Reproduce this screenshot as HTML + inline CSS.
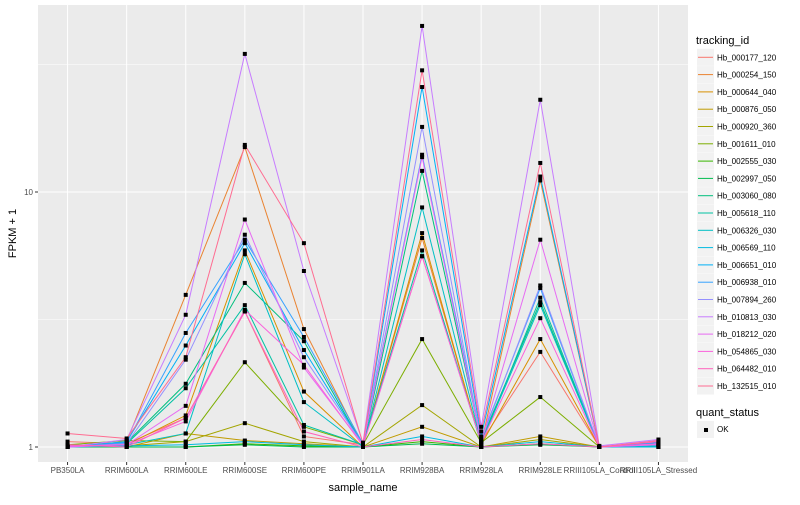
<!DOCTYPE html>
<html><head><meta charset="utf-8"><style>
body{margin:0;background:#fff;font-family:"Liberation Sans",sans-serif}
</style></head><body>
<svg id="c" width="800" height="500" xmlns="http://www.w3.org/2000/svg"></svg>
<script>
const categories=["PB350LA","RRIM600LA","RRIM600LE","RRIM600SE","RRIM600PE","RRIM901LA","RRIM928BA","RRIM928LA","RRIM928LE","RRIII105LA_Control","RRIII105LA_Stressed"];
const seriesNames=["Hb_000177_120","Hb_000254_150","Hb_000644_040","Hb_000876_050","Hb_000920_360","Hb_001611_010","Hb_002555_030","Hb_002997_050","Hb_003060_080","Hb_005618_110","Hb_006326_030","Hb_006569_110","Hb_006651_010","Hb_006938_010","Hb_007894_260","Hb_010813_030","Hb_018212_020","Hb_054865_030","Hb_064482_010","Hb_132515_010"];
const colors=["#F8766D","#EA8331","#D89000","#C09B00","#A3A500","#7CAE00","#39B600","#00BB4E","#00BF7D","#00C1A3","#00BFC4","#00BAE0","#00B0F6","#35A2FF","#9590FF","#C77CFF","#E76BF3","#FA62DB","#FF62BC","#FF6C91"];
const s0=[1.05,1.03,1.3,3.4,1.1,1.02,5.6,1.05,2.36,1.0,1.05];
const s1=[1.0,1.05,3.95,15.0,2.9,1.01,6.6,1.03,11.1,1.0,1.02];
const s2=[1.0,1.02,1.33,5.9,1.65,1.0,6.9,1.02,2.65,1.0,1.01];
const s3=[1.01,1.0,1.13,1.06,1.03,1.0,1.2,1.0,1.1,1.0,1.03];
const s4=[1.0,1.01,1.05,1.24,1.05,1.0,1.46,1.0,1.07,1.0,1.0];
const s5=[1.02,1.06,1.05,2.15,1.2,1.02,2.65,1.04,1.57,1.0,1.01];
const s6=[1.0,1.0,1.0,1.03,1.01,1.0,1.05,1.0,1.03,1.0,1.0];
const s7=[1.0,1.0,1.0,1.02,1.0,1.0,1.03,1.0,1.02,1.0,1.0];
const s8=[1.01,1.04,1.77,4.4,2.6,1.01,12.1,1.06,3.7,1.0,1.02];
const s9=[1.0,1.03,1.7,3.6,1.22,1.02,5.9,1.03,3.85,1.0,1.0];
const s10=[1.0,1.02,1.13,5.7,1.5,1.0,8.7,1.04,3.6,1.0,1.01];
const s11=[1.0,1.01,1.02,1.05,1.02,1.0,1.1,1.0,1.05,1.0,1.0];
const s12=[1.0,1.05,2.5,6.3,2.4,1.02,25.8,1.1,11.5,1.0,1.04];
const s13=[1.0,1.04,2.8,6.5,2.7,1.03,14,1.08,4.2,1.0,1.03];
const s14=[1.0,1.03,2.2,6.8,2.25,1.02,18,1.06,4.3,1.0,1.02];
const s15=[1.0,1.07,3.3,34.8,4.9,1.04,44.8,1.2,23,1.01,1.07];
const s16=[1.0,1.02,1.45,7.8,2.05,1.02,13.7,1.05,6.5,1.0,1.02];
const s17=[1.01,1.02,1.26,3.45,2.1,1.01,5.6,1.04,3.2,1.0,1.03];
const s18=[1.02,1.0,1.3,3.4,1.15,1.0,1.07,1.0,1.03,1.0,1.05];
const s19=[1.13,1.08,2.25,15.3,6.3,1.03,30,1.15,13,1.0,1.06];
const series=[s0,s1,s2,s3,s4,s5,s6,s7,s8,s9,s10,s11,s12,s13,s14,s15,s16,s17,s18,s19];
const yTicks=[1,10];
const NS="http://www.w3.org/2000/svg";
const svg=document.getElementById('c');
const L=38,R=688,T=5,B=462;
const step=(R-L)/categories.length;
function x(i){return L+step*(i+0.5);}
function y(v){return 447-Math.log10(v)*255;}
function mk(t,a,p){const e=document.createElementNS(NS,t);for(const k in a)e.setAttribute(k,a[k]);(p||svg).appendChild(e);return e;}
const panel=mk('rect',{x:L,y:T,width:R-L,height:B-T,fill:'#EBEBEB'});


[Math.sqrt(10),Math.sqrt(1000)].forEach(v=>{const g=mk('line',{x1:L,x2:R,y1:y(v),y2:y(v),stroke:'#fff','stroke-width':0.5});

});
yTicks.forEach(v=>{const g=mk('line',{x1:L,x2:R,y1:y(v),y2:y(v),stroke:'#fff','stroke-width':1});


mk('line',{x1:L-3,x2:L,y1:y(v),y2:y(v),stroke:'#333'});
const t=mk('text',{x:L-5,y:y(v)+3,'text-anchor':'end','font-size':8,fill:'#4D4D4D'});t.textContent=v;

});
categories.forEach((c,i)=>{const g=mk('line',{x1:x(i),x2:x(i),y1:T,y2:B,stroke:'#fff','stroke-width':1});


mk('line',{x1:x(i),x2:x(i),y1:B,y2:B+3,stroke:'#333'});
const t=mk('text',{x:x(i),y:B+11,'text-anchor':'middle','font-size':8,fill:'#4D4D4D'});t.textContent=c;

});
series.forEach((s,k)=>{const p=mk('polyline',{points:s.map((v,i)=>x(i)+','+y(v)).join(' '),fill:'none',stroke:colors[k],'stroke-width':1});

});
series.forEach((s,k)=>{s.forEach((v,i)=>{const r=mk('rect',{x:x(i)-2,y:y(v)-2,width:4,height:4,fill:'#000'});

});});
let t=mk('text',{x:(L+R)/2,y:491,'text-anchor':'middle','font-size':11,fill:'#000'});t.textContent='sample_name';


t=mk('text',{x:0,y:0,'text-anchor':'middle','font-size':11,fill:'#000',transform:'translate(16,'+((T+B)/2)+') rotate(-90)'});t.textContent='FPKM + 1';


t=mk('text',{x:696,y:44,'font-size':11,fill:'#000'});t.textContent='tracking_id';


seriesNames.forEach((n,k)=>{const cy=57.3+k*17.3;
const g=mk('g',{});


mk('rect',{x:697,y:cy-8.5,width:17,height:17,fill:'#F2F2F2'},g);
mk('line',{x1:698,x2:713,y1:cy,y2:cy,stroke:colors[k],'stroke-width':1},g);
const tt=mk('text',{x:717,y:cy+3,'font-size':8,fill:'#000'},g);tt.textContent=n;});
t=mk('text',{x:696,y:416,'font-size':11,fill:'#000'});t.textContent='quant_status';


const g2=mk('g',{});


mk('rect',{x:697,y:421,width:17,height:17,fill:'#F2F2F2'},g2);
mk('rect',{x:704,y:428,width:4,height:4,fill:'#000'},g2);
const ok=mk('text',{x:717,y:432,'font-size':8,fill:'#000'},g2);ok.textContent='OK';
</script>
</body></html>
